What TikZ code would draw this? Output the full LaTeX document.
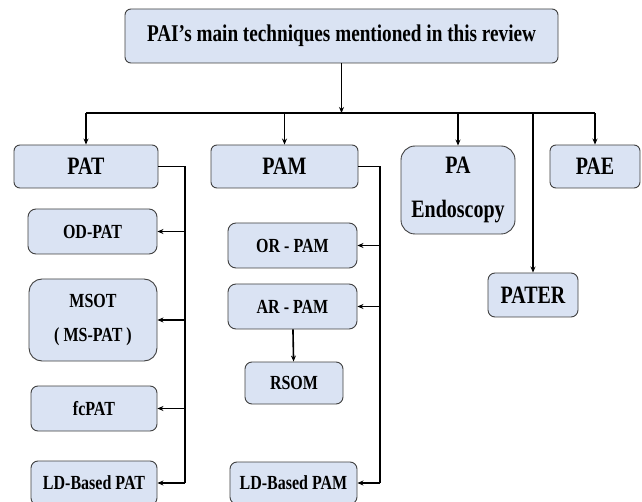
\documentclass[tikz,border=0pt]{standalone}
\usepackage{fontspec}
\setmainfont{Liberation Serif}[FakeStretch=0.8]
\usetikzlibrary{arrows.meta,calc}
\definecolor{boxfill}{HTML}{DAE3F3}
\definecolor{boxline}{HTML}{404040}
\begin{document}
\begin{tikzpicture}[x=1pt,y=-1pt,
  box/.style={draw=boxline, fill=boxfill, line width=0.9pt, rounded corners=6pt,
    inner sep=0pt, align=center, text=black,
    font=\bfseries\fontsize{20}{34}\selectfont},
  big/.style={font=\bfseries\fontsize{25}{44}\selectfont},
  topfont/.style={font=\bfseries\fontsize{24}{30}\selectfont},
  conn/.style={line width=1.6pt, black},
  arr/.style={conn, -{Stealth[length=6pt,width=5pt]}}]
\fill[white] (0,0) rectangle (642,502);
\useasboundingbox (0,0) rectangle (642,502);
\clip (0,0) rectangle (642,502);

% top
\node[box,topfont,minimum width=433,minimum height=54] (top) at (341.5,36) {PAI’s main techniques mentioned in this review};
% level 1
\node[box,big,minimum width=144,minimum height=43] (pat) at (86,166.5) {PAT};
\node[box,big,minimum width=147,minimum height=43] (pam) at (284.5,166.5) {PAM};
\node[box,big,minimum width=114,minimum height=88,rounded corners=14pt] (paendo) at (458,190) {PA\\Endoscopy};
\node[box,big,minimum width=90,minimum height=43] (pae) at (595,166.5) {PAE};
\node[box,big,minimum width=90,minimum height=44,rounded corners=7pt] (pater) at (533,295) {PATER};
% PAT children
\node[box,minimum width=129,minimum height=45,rounded corners=8pt] (odpat) at (92.5,231.5) {OD-PAT};
\node[box,minimum width=128,minimum height=82,rounded corners=13pt] (msot) at (93,320) {MSOT\\( MS-PAT )};
\node[box,minimum width=126,minimum height=45,rounded corners=7pt] (fcpat) at (94,408.5) {fcPAT};
\node[box,minimum width=126,minimum height=44,rounded corners=7pt] (ldpat) at (94,483) {LD-Based PAT};
% PAM children
\node[box,minimum width=129,minimum height=45,rounded corners=8pt] (orpam) at (292.5,245.5) {OR - PAM};
\node[box,minimum width=129,minimum height=45,rounded corners=8pt] (arpam) at (292.5,306.5) {AR - PAM};
\node[box,minimum width=98,minimum height=42,rounded corners=7pt] (rsom) at (294,383) {RSOM};
\node[box,minimum width=127,minimum height=42,rounded corners=7pt] (ldpam) at (293.5,483) {LD-Based PAM};

% main bus
\coordinate (bus) at (341.5,113);
\draw[arr] (top) -- (bus);
\draw[conn] (pat |- bus) -- (pae |- bus);
\foreach \n in {pat,pam,paendo,pae,pater}
  \draw[arr] (\n |- bus) -- (\n);

% PAT branch
\coordinate (pb) at (185,0);
\draw[conn] (pat.east) -- (pat.east -| pb) -- (pb |- ldpat);
\foreach \n in {odpat,msot,fcpat,ldpat}
  \draw[arr] (pb |- \n) -- (\n.east);

% PAM branch
\coordinate (mb) at (380,0);
\draw[conn] (pam.east) -- (pam.east -| mb) -- (mb |- ldpam);
\foreach \n in {orpam,arpam,ldpam}
  \draw[arr] (mb |- \n) -- (\n.east);
\draw[arr] (arpam) -- (rsom);
\end{tikzpicture}
\end{document}
